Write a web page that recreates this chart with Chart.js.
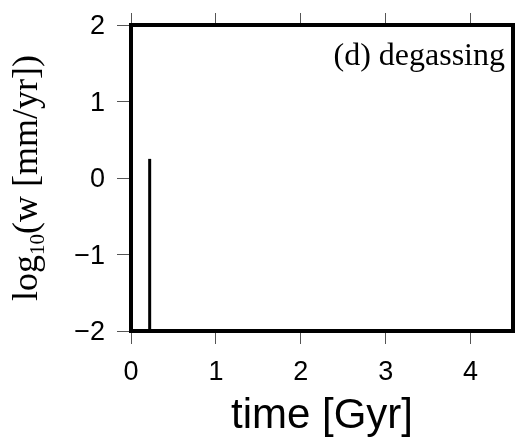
<!DOCTYPE html>
<html>
<head>
<meta charset="utf-8">
<script src="https://cdn.jsdelivr.net/npm/chart.js@4.4.1/dist/chart.umd.min.js"></script>
<style>
  html, body { margin: 0; padding: 0; background: #fff; }
  canvas { display: block; }
</style>
</head>
<body>
<canvas id="c" width="519" height="442"></canvas>
<script>
// Degassing-driven velocity: one short pulse early in the history
const timeGyr = [0.22, 0.22];
const logW = [-2, 0.25];

const xTicks = [0, 1, 2, 3, 4];
const xTickLabels = ['0', '1', '2', '3', '4'];
const yTicks = [-2, -1, 0, 1, 2];
const yTickLabels = ['\u22122', '\u22121', '0', '1', '2'];

const xRange = [0, 4.5];
const yRange = [-2, 2];

const panelLabel = '(d) degassing';
const xTitle = 'time [Gyr]';
const yTitleParts = { pre: 'log', sub: '10', post: '(w [mm/yr])' };

const SANS = '"Liberation Sans", Arial, Helvetica, sans-serif';
const SERIF = '"Liberation Serif", "Times New Roman", serif';
const TICK_GREY = '#555';

const fixedTicks = (values) => (axis) => {
  axis.ticks = values.map(v => ({ value: v }));
};

// fix axis box sizes so the plot frame lands in a fixed place
const fixSize = (w, h) => (s) => {
  if (w !== null) s.width = w;
  if (h !== null) s.height = h;
  s.paddingTop = 0; s.paddingBottom = 0;
  s.paddingLeft = 0; s.paddingRight = 0;
};

const framePlugin = {
  id: 'frame',
  afterDatasetsDraw(chart) {
    const { ctx, chartArea: a } = chart;
    ctx.save();
    ctx.strokeStyle = '#000';
    ctx.lineWidth = 4;
    ctx.lineJoin = 'miter';
    ctx.strokeRect(a.left, a.top, a.right - a.left, a.bottom - a.top);
    ctx.restore();
  },
  afterDraw(chart) {
    const { ctx, chartArea: a } = chart;
    ctx.save();
    // panel tag
    ctx.fillStyle = '#000';
    ctx.font = '32px ' + SERIF;
    ctx.textAlign = 'right';
    ctx.textBaseline = 'alphabetic';
    ctx.fillText(panelLabel, a.right - 8, a.top + 40);

    // y title with subscript, rotated
    const cy = (a.top + a.bottom) / 2;
    ctx.translate(37, cy);
    ctx.rotate(-Math.PI / 2);
    const big = '36px ' + SERIF;
    const small = '21px ' + SERIF;
    ctx.font = big;
    const w1 = ctx.measureText(yTitleParts.pre).width;
    const w3 = ctx.measureText(yTitleParts.post).width;
    ctx.font = small;
    const w2 = ctx.measureText(yTitleParts.sub).width;
    let x = -(w1 + w2 + w3) / 2;
    ctx.textAlign = 'left';
    ctx.font = big;
    ctx.fillText(yTitleParts.pre, x, 0);
    x += w1;
    ctx.font = small;
    ctx.fillText(yTitleParts.sub, x, 7);
    x += w2;
    ctx.font = big;
    ctx.fillText(yTitleParts.post, x, 0);
    ctx.restore();
  }
};

new Chart(document.getElementById('c'), {
  type: 'line',
  data: {
    datasets: [{
      data: timeGyr.map((t, i) => ({ x: t, y: logW[i] })),
      borderColor: '#000',
      borderWidth: 3,
      pointRadius: 0,
      fill: false,
      tension: 0
    }]
  },
  options: {
    responsive: false,
    devicePixelRatio: 1,
    animation: false,
    layout: { padding: { left: 0, right: 6, top: 0, bottom: 0 } },
    plugins: { legend: { display: false }, tooltip: { enabled: false } },
    scales: {
      x: {
        type: 'linear',
        position: 'bottom',
        min: xRange[0], max: xRange[1],
        afterBuildTicks: fixedTicks(xTicks),
        afterFit: fixSize(null, 111),
        border: { display: false },
        grid: { drawOnChartArea: false, drawTicks: true, tickLength: 13, color: TICK_GREY, lineWidth: 1 },
        ticks: {
          color: '#000', padding: 12, maxRotation: 0, autoSkip: false,
          font: { family: SANS, size: 27 },
          callback: (v) => xTickLabels[xTicks.indexOf(v)]
        },
        title: {
          display: true, text: xTitle, color: '#000',
          font: { family: SANS, size: 42 },
          padding: { top: 0, bottom: 0 }
        }
      },
      xTop: {
        type: 'linear',
        position: 'top',
        min: xRange[0], max: xRange[1],
        afterBuildTicks: fixedTicks(xTicks),
        afterFit: fixSize(null, 25),
        border: { display: false },
        grid: { drawOnChartArea: false, drawTicks: true, tickLength: 12, color: TICK_GREY, lineWidth: 1 },
        ticks: { display: false }
      },
      y: {
        type: 'linear',
        position: 'left',
        min: yRange[0], max: yRange[1],
        afterBuildTicks: fixedTicks(yTicks),
        afterFit: fixSize(131, null),
        border: { display: false },
        grid: { drawOnChartArea: false, drawTicks: true, tickLength: 14, color: TICK_GREY, lineWidth: 1 },
        ticks: {
          color: '#000', padding: 12, labelOffset: 2,
          font: { family: SANS, size: 27 },
          callback: (v) => yTickLabels[yTicks.indexOf(v)]
        }
      }
    }
  },
  plugins: [framePlugin]
});
</script>
</body>
</html>
